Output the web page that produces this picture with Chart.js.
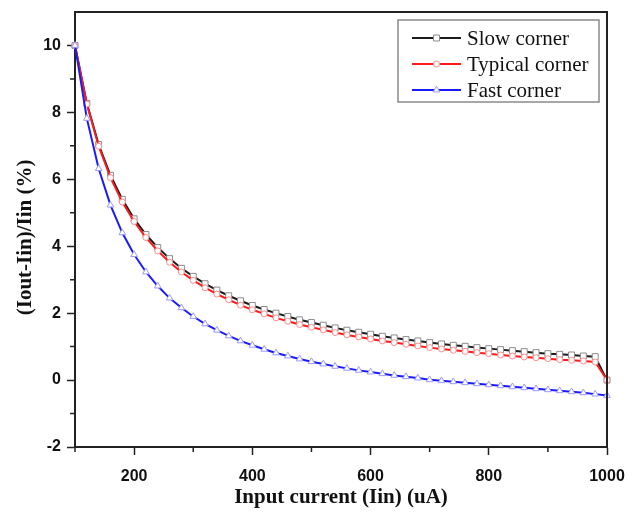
<!DOCTYPE html>
<html><head><meta charset="utf-8">
<script src="https://cdn.jsdelivr.net/npm/chart.js@4.4.1/dist/chart.umd.min.js"></script>
<style>html,body{margin:0;padding:0;background:#fff}#wrap{width:628px;height:518px;position:relative}</style>
</head><body><div id="wrap"><canvas id="c" width="628" height="518"></canvas></div>
<script>
const inputCurrent = [100,120,140,160,180,200,220,240,260,280,300,320,340,360,380,400,420,440,460,480,500,520,540,560,580,600,620,640,660,680,700,720,740,760,780,800,820,840,860,880,900,920,940,960,980,1000];
const slowCorner = [10.00,8.27,7.04,6.12,5.40,4.82,4.35,3.96,3.63,3.34,3.10,2.88,2.69,2.52,2.37,2.23,2.11,2.00,1.90,1.80,1.72,1.64,1.56,1.49,1.43,1.37,1.31,1.26,1.21,1.17,1.12,1.08,1.04,1.01,0.97,0.94,0.91,0.88,0.85,0.82,0.79,0.77,0.75,0.72,0.70,0.00];
const typicalCorner = [10.00,8.25,6.99,6.05,5.32,4.74,4.26,3.86,3.52,3.23,2.98,2.76,2.57,2.40,2.24,2.10,1.98,1.86,1.76,1.66,1.58,1.50,1.42,1.35,1.29,1.23,1.17,1.12,1.07,1.02,0.97,0.93,0.89,0.86,0.82,0.79,0.75,0.72,0.69,0.67,0.64,0.61,0.59,0.57,0.54,0.00];
const fastCorner = [10.00,7.82,6.32,5.23,4.40,3.75,3.23,2.81,2.45,2.16,1.90,1.68,1.49,1.32,1.17,1.04,0.92,0.81,0.72,0.63,0.55,0.48,0.41,0.35,0.29,0.24,0.19,0.14,0.10,0.06,0.01,-0.02,-0.05,-0.08,-0.11,-0.14,-0.17,-0.20,-0.23,-0.26,-0.29,-0.32,-0.35,-0.38,-0.42,-0.46];
const seriesNames = ['Slow corner','Typical corner','Fast corner'];
const xTickLabels = [200,400,600,800,1000];
const yTickLabels = [-2,0,2,4,6,8,10];
const xTitle = 'Input current (Iin) (uA)';
const yTitle = '(Iout-Iin)/Iin (%)   ';

function pts(arr){ return inputCurrent.map((x,i)=>({x:x,y:arr[i]})); }

const AX = '#222';
const framePlugin = {
  id:'frame',
  afterDraw(chart){
    const {ctx, chartArea:a, scales:{x,y}} = chart;
    ctx.save();
    ctx.strokeStyle = AX; ctx.lineWidth = 2;
    ctx.beginPath(); ctx.moveTo(a.left-1, a.top); ctx.lineTo(a.right, a.top); ctx.lineTo(a.right, a.bottom+1); ctx.stroke();
    ctx.lineWidth = 1.5;
    ctx.beginPath();
    x.ticks.forEach(t=>{ if(!xTickLabels.includes(t.value)){ const p=x.getPixelForValue(t.value); ctx.moveTo(p,a.bottom); ctx.lineTo(p,a.bottom+5);} });
    y.ticks.forEach(t=>{ if(!yTickLabels.includes(t.value) && t.value<11){ const p=y.getPixelForValue(t.value); ctx.moveTo(a.left,p); ctx.lineTo(a.left-5,p);} });
    ctx.stroke();
    // legend
    const bx=398, by=20, bw=201, bh=82;
    ctx.fillStyle='#fff'; ctx.fillRect(bx,by,bw,bh);
    ctx.strokeStyle='#8a8a8a'; ctx.lineWidth=1.5; ctx.strokeRect(bx,by,bw,bh);
    const rows=[38,64,90];
    chart.data.datasets.forEach((ds,i)=>{
      const yy=rows[i];
      ctx.strokeStyle=ds.borderColor; ctx.lineWidth=2;
      ctx.beginPath(); ctx.moveTo(412,yy); ctx.lineTo(461,yy); ctx.stroke();
      ctx.fillStyle='#fff'; ctx.strokeStyle=ds.pointBorderColor; ctx.lineWidth=1;
      ctx.beginPath();
      const r=ds.pointRadius;
      if(ds.pointStyle==='rect'){const s=r*Math.SQRT1_2; ctx.rect(436.5-s,yy-s,2*s,2*s);}
      else if(ds.pointStyle==='triangle'){ctx.moveTo(436.5,yy-r);ctx.lineTo(436.5+r*0.866,yy+r*0.5);ctx.lineTo(436.5-r*0.866,yy+r*0.5);ctx.closePath();}
      else {ctx.arc(436.5,yy,r,0,Math.PI*2);}
      ctx.fill(); ctx.stroke();
      ctx.fillStyle='#111'; ctx.font='21px "Liberation Serif", serif'; ctx.textBaseline='middle'; ctx.textAlign='left';
      ctx.fillText(ds.label,467,yy+1);
    });
    ctx.restore();
  }
};

new Chart(document.getElementById('c'), {
  type:'line',
  data:{datasets:[
    {label:seriesNames[0], data:pts(slowCorner), borderColor:'#1c1c1c', borderWidth:2, pointStyle:'rect', pointRadius:4.2, pointBorderWidth:1, pointBorderColor:'#8c8c8c', pointBackgroundColor:'#fff', tension:0, order:2, clip:false},
    {label:seriesNames[1], data:pts(typicalCorner), borderColor:'#ff1a1a', borderWidth:2, pointStyle:'circle', pointRadius:3, pointBorderWidth:1, pointBorderColor:'#ff8c8c', pointBackgroundColor:'#fff', tension:0, order:1, clip:false},
    {label:seriesNames[2], data:pts(fastCorner), borderColor:'#1a1aff', borderWidth:2, pointStyle:'triangle', pointRadius:3.8, pointBorderWidth:1, pointBorderColor:'#9a9aff', pointBackgroundColor:'#fff', tension:0, order:0, clip:false}
  ]},
  options:{
    responsive:false, animation:false, devicePixelRatio:1,
    layout:{padding:{left:0,right:21,top:12,bottom:0}},
    plugins:{legend:{display:false}, tooltip:{enabled:false}},
    scales:{
      x:{type:'linear', min:100, max:1000,
        afterFit(s){ s.height=71; s.paddingLeft=0; s.paddingRight=0; },
        ticks:{stepSize:100, autoSkip:false, maxRotation:0, padding:12, color:'#111',
          font:{family:'"Liberation Sans", Arial, sans-serif', weight:'bold', size:16},
          callback:(v)=> xTickLabels.includes(v) ? String(v) : ''},
        grid:{drawOnChartArea:false, drawTicks:true, tickLength:8, tickWidth:1.5,
          tickColor:(c)=> (c.tick && xTickLabels.includes(c.tick.value)) ? AX : 'rgba(0,0,0,0)'},
        border:{display:true, color:AX, width:2},
        title:{display:true, text:xTitle, color:'#111', padding:{top:0,bottom:8},
          font:{family:'"Liberation Serif", "Times New Roman", serif', weight:'bold', size:21}}
      },
      y:{type:'linear', min:-2, max:11,
        afterFit(s){ s.width=75; s.paddingTop=0; s.paddingBottom=0; },
        ticks:{stepSize:1, autoSkip:false, padding:6, color:'#111',
          font:{family:'"Liberation Sans", Arial, sans-serif', weight:'bold', size:16},
          callback:(v)=> yTickLabels.includes(v) ? String(v) : ''},
        grid:{drawOnChartArea:false, drawTicks:true, tickLength:8, tickWidth:1.5,
          tickColor:(c)=> (c.tick && yTickLabels.includes(c.tick.value)) ? AX : 'rgba(0,0,0,0)'},
        border:{display:true, color:AX, width:2},
        title:{display:true, text:yTitle, color:'#111', padding:{top:13,bottom:0},
          font:{family:'"Liberation Serif", "Times New Roman", serif', weight:'bold', size:21}}
      }
    }
  },
  plugins:[framePlugin]
});
</script></body></html>
